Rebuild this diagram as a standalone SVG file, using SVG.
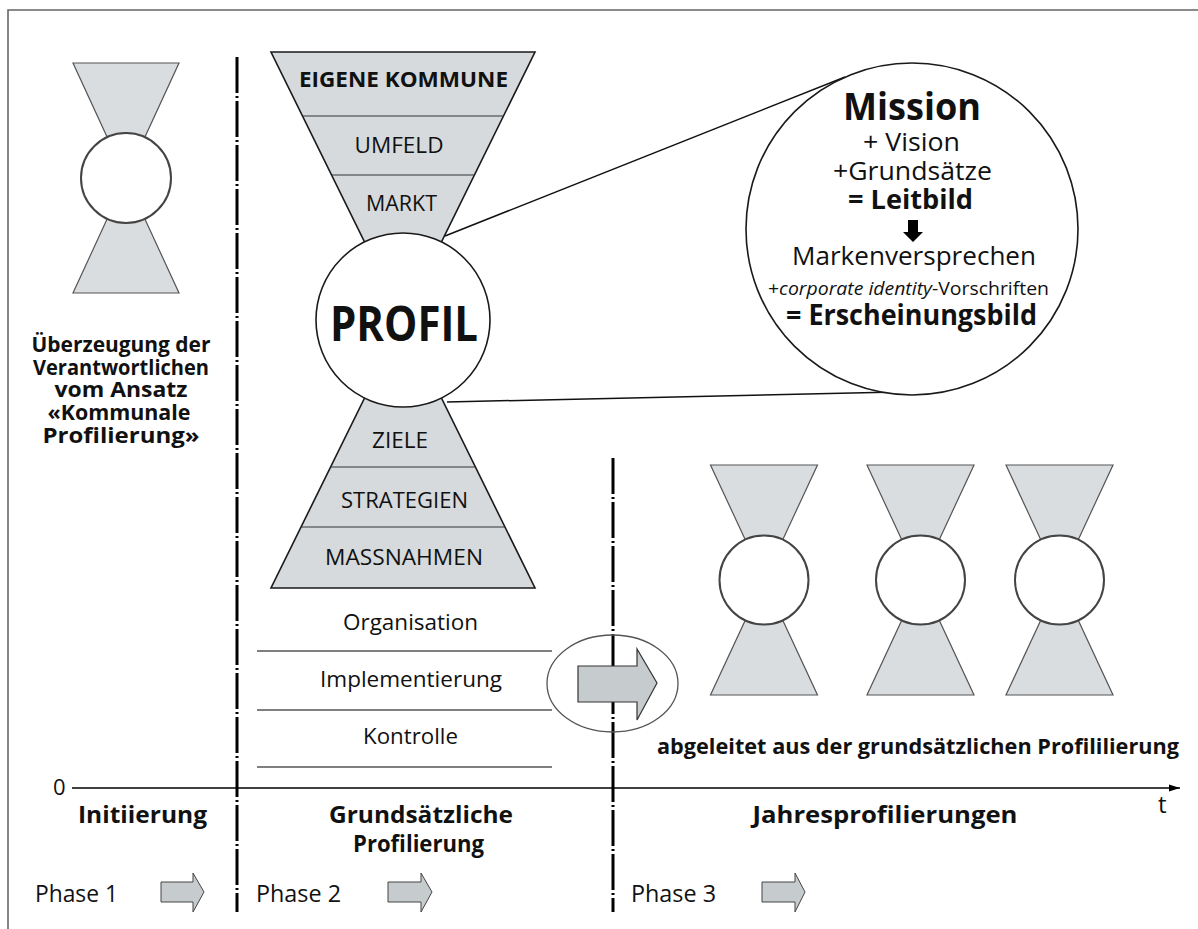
<svg xmlns="http://www.w3.org/2000/svg" width="1198" height="929" viewBox="0 0 1198 929">
<defs>
<style>
text{font-family:"Open Sans","Liberation Sans",Arial,sans-serif;fill:#111;}
.b{font-weight:bold;}
.c{text-anchor:middle;}
.hg{fill:#d9dde0;stroke:#555;stroke-width:1.2;}
.hc{fill:#fff;stroke:#444;stroke-width:2;}
.fn{fill:#d6dadd;stroke:#1a1a1a;stroke-width:1.6;}
.dv{stroke:#333;stroke-width:1.2;fill:none;}
.dd{stroke:#000;stroke-width:3;stroke-dasharray:36 3 2 3;fill:none;}
.arr{fill:#c6cbce;stroke:#444;stroke-width:1;}
.hl{stroke:#555;stroke-width:1.3;fill:none;}
</style>
<marker id="ah" markerWidth="12" markerHeight="10" refX="11" refY="5" orient="auto" markerUnits="userSpaceOnUse">
<path d="M0,1.5 L11,5 L0,8.5 Z" fill="#000"/>
</marker>
</defs>
<rect width="1198" height="929" fill="#fff"/>
<g id="frame">
<path d="M8,929 V10 H1198" fill="none" stroke="#666" stroke-width="1.6"/>
</g>

<g id="connectors">
<path class="dd" d="M237,57 V912"/>
<path class="dd" d="M613,458 V912"/>
<line x1="72" y1="788" x2="1180" y2="788" stroke="#000" stroke-width="1.6" marker-end="url(#ah)"/>
<line x1="445" y1="236" x2="845" y2="77" stroke="#111" stroke-width="1.5"/>
<line x1="447" y1="402" x2="897" y2="392" stroke="#111" stroke-width="1.5"/>
</g>

<g id="hourglass-initiierung">
<polygon class="hg" points="73,63 179,63 126,178"/>
<polygon class="hg" points="73,293 179,293 126,178"/>
<circle class="hc" cx="126" cy="178" r="45"/>
</g>

<g id="text-initiierung">
<text class="b c" font-size="20.5" x="121" y="352" textLength="179" lengthAdjust="spacingAndGlyphs">Überzeugung der</text>
<text class="b c" font-size="20.5" x="121" y="375" textLength="176" lengthAdjust="spacingAndGlyphs">Verantwortlichen</text>
<text class="b c" font-size="20.5" x="121" y="397" textLength="133" lengthAdjust="spacingAndGlyphs">vom Ansatz</text>
<text class="b c" font-size="20.5" x="119" y="420" textLength="143" lengthAdjust="spacingAndGlyphs">«Kommunale</text>
<text class="b c" font-size="20.5" x="121" y="443" textLength="157" lengthAdjust="spacingAndGlyphs">Profilierung»</text>
</g>

<g id="funnel-top">
<polygon class="fn" points="271,52 535,52 403,320"/>
<line class="dv" x1="302.5" y1="116" x2="503.5" y2="116"/>
<line class="dv" x1="331.6" y1="175" x2="474.4" y2="175"/>
<text class="b c" font-size="22" x="403.5" y="87" textLength="209" lengthAdjust="spacingAndGlyphs">EIGENE KOMMUNE</text>
<text class="c" font-size="21.5" x="399" y="153" textLength="89" lengthAdjust="spacingAndGlyphs">UMFELD</text>
<text class="c" font-size="21.5" x="401.5" y="211" textLength="71" lengthAdjust="spacingAndGlyphs">MARKT</text>
</g>

<g id="funnel-bottom">
<polygon class="fn" points="271,588 535,588 403,320"/>
<line class="dv" x1="330.6" y1="467" x2="475.4" y2="467"/>
<line class="dv" x1="301" y1="527" x2="505" y2="527"/>
<text class="c" font-size="21.5" x="400" y="448" textLength="56" lengthAdjust="spacingAndGlyphs">ZIELE</text>
<text class="c" font-size="21.5" x="404.5" y="508" textLength="127" lengthAdjust="spacingAndGlyphs">STRATEGIEN</text>
<text class="c" font-size="21.5" x="404" y="565" textLength="158" lengthAdjust="spacingAndGlyphs">MASSNAHMEN</text>
</g>

<g id="profil">
<circle cx="403" cy="320" r="87" fill="#fff" stroke="#1a1a1a" stroke-width="1.6"/>
<text class="b c" font-size="49" x="404" y="341" textLength="148" lengthAdjust="spacingAndGlyphs">PROFIL</text>
</g>

<g id="leitbild">
<circle cx="912" cy="229" r="166" fill="#fff" stroke="#1a1a1a" stroke-width="1.6"/>
<text class="b c" font-size="38" x="912" y="120" textLength="138" lengthAdjust="spacingAndGlyphs">Mission</text>
<text class="c" font-size="26" x="911.5" y="151" textLength="97" lengthAdjust="spacingAndGlyphs">+ Vision</text>
<text class="c" font-size="26" x="912.5" y="180" textLength="159" lengthAdjust="spacingAndGlyphs">+Grundsätze</text>
<text class="b c" font-size="26" x="910.5" y="209" textLength="125" lengthAdjust="spacingAndGlyphs">= Leitbild</text>
<polygon points="908,220 918,220 918,232 923,232 913,242 903,232 908,232" fill="#000"/>
<text class="c" font-size="26" x="914" y="265" textLength="244" lengthAdjust="spacingAndGlyphs">Markenversprechen</text>
<text class="c" font-size="18.5" x="908.5" y="295" textLength="281" lengthAdjust="spacingAndGlyphs">+<tspan font-style="italic">corporate identity</tspan>-Vorschriften</text>
<text class="b c" font-size="28" x="911.5" y="325" textLength="251" lengthAdjust="spacingAndGlyphs">= Erscheinungsbild</text>
</g>

<g id="umsetzung">
<text class="c" font-size="22.5" x="410.5" y="630" textLength="135" lengthAdjust="spacingAndGlyphs">Organisation</text>
<line class="hl" x1="257" y1="651" x2="552" y2="651"/>
<text class="c" font-size="22.5" x="411" y="687" textLength="182" lengthAdjust="spacingAndGlyphs">Implementierung</text>
<line class="hl" x1="257" y1="710" x2="552" y2="710"/>
<text class="c" font-size="22.5" x="410.5" y="744" textLength="95" lengthAdjust="spacingAndGlyphs">Kontrolle</text>
<line class="hl" x1="257" y1="767" x2="552" y2="767"/>
</g>

<g id="transfer">
<ellipse cx="612.5" cy="683.5" rx="65.5" ry="48.5" fill="none" stroke="#555" stroke-width="1.3"/>
<polygon points="578,666 637,666 637,649 657,683 637,720 637,702 578,702" fill="#c6cbce" stroke="#333" stroke-width="1.2"/>
</g>

<g id="hourglass-j1">
<polygon class="hg" points="710.5,465 817.5,465 764,580"/>
<polygon class="hg" points="710.5,695 817.5,695 764,580"/>
<circle class="hc" cx="764" cy="580" r="44.5"/>
</g>
<g id="hourglass-j2">
<polygon class="hg" points="867,465 974,465 920.5,580"/>
<polygon class="hg" points="867,695 974,695 920.5,580"/>
<circle class="hc" cx="920.5" cy="580" r="44.5"/>
</g>
<g id="hourglass-j3">
<polygon class="hg" points="1006,465 1113,465 1059.5,580"/>
<polygon class="hg" points="1006,695 1113,695 1059.5,580"/>
<circle class="hc" cx="1059.5" cy="580" r="44.5"/>
</g>
<text class="b c" font-size="21" x="918" y="754" textLength="522" lengthAdjust="spacingAndGlyphs">abgeleitet aus der grundsätzlichen Profililierung</text>

<g id="axis-labels">
<text font-size="22" x="53" y="795">0</text>
<text font-size="24" x="1158" y="813">t</text>
<text class="b c" font-size="23.5" x="142.5" y="823" textLength="129" lengthAdjust="spacingAndGlyphs">Initiierung</text>
<text class="b c" font-size="23.5" x="421" y="823" textLength="184" lengthAdjust="spacingAndGlyphs">Grundsätzliche</text>
<text class="b c" font-size="23.5" x="418.5" y="852" textLength="131" lengthAdjust="spacingAndGlyphs">Profilierung</text>
<text class="b c" font-size="23.5" x="885" y="823" textLength="265" lengthAdjust="spacingAndGlyphs">Jahresprofilierungen</text>
</g>

<g id="phase-1">
<text font-size="23.5" x="35" y="902" textLength="83" lengthAdjust="spacingAndGlyphs">Phase 1</text>
<polygon class="arr" points="161,882 193,882 193,873 204,892 193,912 193,902 161,902"/>
</g>
<g id="phase-2">
<text font-size="23.5" x="256" y="902" textLength="85" lengthAdjust="spacingAndGlyphs">Phase 2</text>
<polygon class="arr" points="388,882 421,882 421,873 432,892 421,912 421,902 388,902"/>
</g>
<g id="phase-3">
<text font-size="23.5" x="631" y="902" textLength="85" lengthAdjust="spacingAndGlyphs">Phase 3</text>
<polygon class="arr" points="762,882 795,882 795,873 805,892 795,912 795,902 762,902"/>
</g>
</svg>
